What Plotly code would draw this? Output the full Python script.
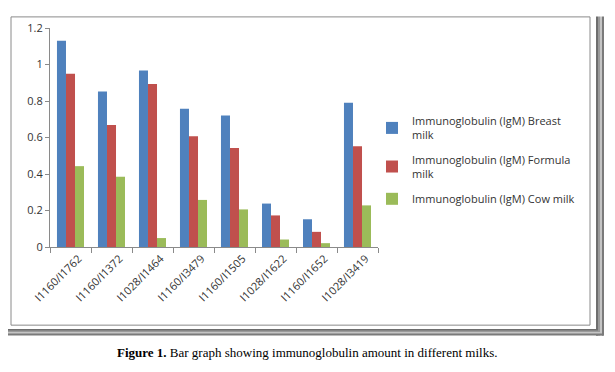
import plotly.graph_objects as go

categories = ["I1160/I1762", "I1160/I1372", "I1028/I1464", "I1160/I3479",
              "I1160/I1505", "I1028/I1622", "I1160/I1652", "I1028/I3419"]
breast = [1.13, 0.852, 0.967, 0.758, 0.72, 0.238, 0.152, 0.79]
formula = [0.949, 0.668, 0.893, 0.607, 0.543, 0.173, 0.083, 0.552]
cow = [0.443, 0.385, 0.049, 0.258, 0.206, 0.041, 0.021, 0.228]
series_names = ["Immunoglobulin (IgM) Breast<br>milk",
                "Immunoglobulin (IgM) Formula<br>milk",
                "Immunoglobulin (IgM) Cow milk"]
colors = ["#4F81BD", "#C0504D", "#9BBB59"]
yticks = [0, 0.2, 0.4, 0.6, 0.8, 1, 1.2]

O = 8  # page body margin offset
W, H = 615 - O, 372 - O
L, R, T, B = 50, 378, 20, 247  # plot area in page pixels

fig = go.Figure()
for i, (name, vals, c) in enumerate(zip(series_names, [breast, formula, cow], colors)):
    fig.add_trace(go.Bar(x=categories, y=vals, name=name, marker_color=c,
                         marker_line_width=0, legendgroup=f"g{i}"))

def px(x):
    return (x - L) / (R - L)

def py(y):
    return (B - y) / (B - T)

gray = "#8a8a8a"
shapes = []
# inner frame
shapes.append(dict(type="rect", xref="paper", yref="paper",
                   x0=px(11), x1=px(590), y0=py(328), y1=py(8.5),
                   line=dict(color=gray, width=1)))
# shadow right & bottom
for off, col in [(0, "#6e6e6e"), (2, "#9a9a9a"), (4, "#c4c4c4"), (6, "#7a7a7a")]:
    shapes.append(dict(type="line", xref="paper", yref="paper",
                       x0=px(597 + off), x1=px(597 + off), y0=py(339), y1=py(8),
                       line=dict(color=col, width=2)))
    shapes.append(dict(type="line", xref="paper", yref="paper",
                       x0=px(8), x1=px(603), y0=py(333 + off * 0.8), y1=py(333 + off * 0.8),
                       line=dict(color=col, width=2)))

fig.update_layout(
    width=W, height=H,
    margin=dict(l=L - O, r=615 - R, t=T - O, b=372 - B),
    paper_bgcolor="white", plot_bgcolor="white",
    barmode="group", bargap=0.34, bargroupgap=0,
    font=dict(family="Open Sans, Liberation Sans, sans-serif", size=10, color="#333333"),
    showlegend=True,
    legend=dict(x=px(372), y=py(102), xanchor="left", yanchor="top",
                font=dict(size=11, color="#333333"), tracegroupgap=7,
                traceorder="grouped", itemwidth=30, bgcolor="rgba(0,0,0,0)"),
    xaxis=dict(type="category", showline=True, linecolor=gray, linewidth=1,
               ticks="outside", tickson="boundaries", ticklen=5, tickcolor=gray,
               tickangle=-45, tickfont=dict(size=11, color="#333333"),
               ticklabelshift=8,
               showgrid=False, fixedrange=True),
    yaxis=dict(range=[0, 1.2], tickvals=yticks, ticktext=["0", "0.2", "0.4", "0.6", "0.8", "1", "1.2"],
               showline=True, linecolor=gray, linewidth=1, ticks="outside", ticklen=4,
               tickcolor=gray, showgrid=False, zeroline=False,
               tickfont=dict(size=11, color="#333333")),
    shapes=shapes,
    annotations=[dict(xref="paper", yref="paper", x=px(307), y=py(356),
                      xanchor="center", yanchor="middle", showarrow=False,
                      text="<b>Figure 1.</b> Bar graph showing immunoglobulin amount in different milks.",
                      font=dict(family="Liberation Serif, Times New Roman, serif", size=13, color="black"))],
)

fig.write_html("out.html")
